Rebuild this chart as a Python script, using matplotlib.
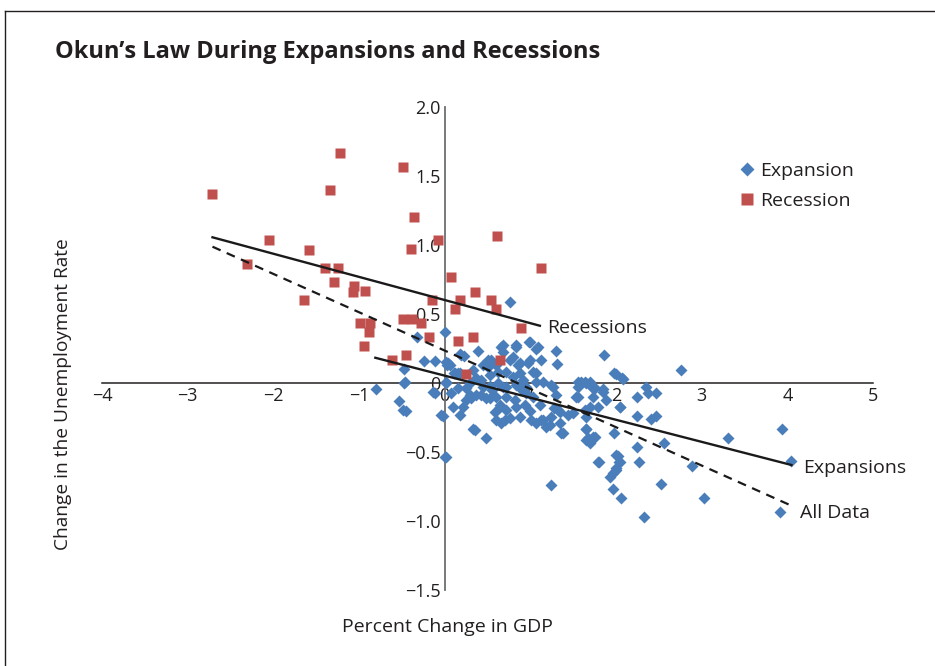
import matplotlib
matplotlib.use("Agg")
import matplotlib.pyplot as plt
from matplotlib.lines import Line2D

plt.rcParams['font.family'] = ['Open Sans', 'DejaVu Sans']

# recession quarters (red squares)
rec_x = [-2.71, -1.217, -1.342, -0.482, -0.362, -2.054, -1.583, -2.302, -1.392, -1.249,
         -1.287, -0.397, -0.078, -1.058, -1.07, -0.93, -1.645, 0.078, 0.183, 0.125,
         -0.152, -0.984, -0.875, -0.879, -0.482, -0.377, -0.28, -0.187, 0.16, -0.942,
         -0.447, -0.61, 0.253, 0.35, 0.545, 0.603, 0.33, 0.887, 0.65, 0.61, 1.12]
rec_y = [1.367, 1.669, 1.399, 1.567, 1.20, 1.034, 0.966, 0.865, 0.836, 0.836,
         0.732, 0.969, 1.036, 0.703, 0.662, 0.664, 0.599, 0.77, 0.60, 0.534,
         0.60, 0.435, 0.433, 0.372, 0.466, 0.466, 0.437, 0.333, 0.302, 0.268,
         0.20, 0.167, 0.065, 0.662, 0.60, 0.534, 0.331, 0.396, 0.167, 1.065, 0.831]

# expansion quarters (blue diamonds)
exp_x = [-0.80, -0.475, -0.475, -0.537, -0.455, -0.323, -0.24, -0.117, -0.117, 0.01,
         -0.02, 0.01, 0.0, 0.03, 0.183, 0.22, 0.105, 0.155, 0.758, 0.68,
         0.837, 0.984, 0.389, 0.195, 0.04, 0.545, 0.447, 0.505, 0.758, 0.855,
         0.972, 0.02, 0.117, 0.175, 0.37, 0.428, 0.525, 0.622, 0.72, 0.797,
         0.875, 1.03, 1.07, 0.155, 0.253, 0.447, 0.525, 0.72, 0.837, 0.953,
         0.992, 1.07, 1.30, 1.128, 0.66, 0.68, 0.837, 0.505, 0.603, 0.797,
         0.875, 0.992, 0.058, -0.467, -0.137, -0.04, -0.49, 0.078, 0.097, 0.175,
         0.31, 0.428, 0.525, 0.35, 0.486, 0.642, 0.72, 0.837, 0.603, 0.70,
         0.875, 0.953, 1.03, 1.01, 1.07, 1.147, 1.187, 1.245, 1.362, 1.32,
         1.30, 1.537, 1.595, 1.692, 1.75, 1.497, 1.653, 1.73, 1.692, 0.0,
         0.214, 0.33, 0.02, 0.583, 0.875, 0.933, 0.817, 0.72, 0.603, 0.486,
         0.37, 0.292, 0.642, 0.758, 0.66, 1.09, 1.315, 1.86, 1.98, 2.07,
         1.07, 1.147, 1.245, 1.555, 1.634, 1.73, 1.847, 1.264, 1.555, 1.73,
         1.847, 1.555, 1.73, 1.887, 2.04, 1.108, 1.28, 1.342, 1.44, 1.634,
         1.692, 1.79, 1.128, 1.225, 1.342, 1.38, 1.653, 1.672, 1.75, 1.98,
         1.79, 2.0, 2.04, 2.0, 2.76, 2.0, 2.08, 1.575, 1.645, 1.72,
         2.345, 2.37, 2.46, 2.244, 2.05, 2.244, 2.41, 2.46, 1.645, 1.73,
         1.653, 2.244, 2.555, 2.267, 2.02, 2.03, 2.0, 1.96, 1.925, 1.80,
         1.96, 2.06, 2.52, 2.88, 3.03, 2.325, 3.30, 3.93, 4.04, 3.91,
         1.24, 0.292, 0.62, 0.914, 0.33, 0.55, 0.9, 0.25, 0.68, 1.0]
exp_y = [-0.04, 0.10, 0.0, -0.13, -0.20, 0.331, 0.162, 0.162, -0.07, 0.0,
         -0.24, 0.155, 0.367, 0.13, 0.208, 0.196, 0.07, 0.07, 0.589, 0.275,
         0.275, 0.30, 0.234, 0.203, 0.143, 0.167, 0.13, 0.118, 0.167, 0.13,
         0.143, 0.01, 0.07, 0.07, 0.034, 0.022, 0.058, 0.082, 0.082, 0.046,
         0.07, 0.082, 0.01, -0.038, -0.038, -0.027, -0.022, -0.027, -0.015, -0.027,
         0.30, 0.25, 0.234, 0.167, 0.263, 0.227, 0.263, 0.167, 0.13, 0.19,
         0.143, 0.167, 0.13, 0.01, -0.063, -0.232, -0.196, -0.075, -0.172, -0.232,
         -0.111, -0.087, -0.111, -0.34, -0.40, -0.172, -0.196, -0.172, -0.268, -0.268,
         -0.027, -0.075, -0.099, -0.268, -0.292, -0.268, -0.317, -0.244, -0.365, -0.196,
         -0.087, -0.099, 0.01, 0.01, -0.038, -0.22, -0.244, -0.39, -0.437, -0.534,
         -0.172, -0.33, -0.534, -0.208, -0.244, -0.159, -0.123, -0.099, -0.099, -0.111,
         -0.087, -0.087, -0.159, -0.256, -0.292, 0.263, 0.135, 0.20, 0.075, 0.034,
         0.07, 0.01, -0.015, 0.01, 0.01, -0.027, -0.046, -0.027, -0.027, -0.038,
         -0.063, -0.099, -0.099, -0.123, -0.172, -0.159, -0.183, -0.208, -0.232, -0.196,
         -0.172, -0.172, -0.268, -0.304, -0.292, -0.365, -0.33, -0.40, -0.39, -0.365,
         -0.57, -0.52, -0.57, -0.63, 0.094, 0.065, 0.029, 0.0, 0.0, -0.03,
         -0.03, -0.075, -0.07, -0.099, -0.172, -0.237, -0.263, -0.24, -0.336, -0.40,
         -0.413, -0.466, -0.437, -0.57, -0.53, -0.57, -0.618, -0.654, -0.68, -0.57,
         -0.77, -0.836, -0.734, -0.60, -0.836, -0.97, -0.40, -0.336, -0.565, -0.933,
         -0.74, 0.0, 0.0, 0.022, 0.094, -0.05, -0.05, -0.12, -0.03, -0.2]

# fitted lines (end points)
rec_fit_x = [-2.71, 1.11]
rec_fit_y = [1.056, 0.415]
exp_fit_x = [-0.81, 4.045]
exp_fit_y = [0.183, -0.594]
all_fit_x = [-2.71, 4.045]
all_fit_y = [0.988, -0.889]

xticks = [-4, -3, -2, -1, 0, 1, 2, 3, 4, 5]
yticks = [-1.5, -1.0, -0.5, 0, 0.5, 1.0, 1.5, 2.0]

blue = '#4a7ebb'
red = '#c0504d'
txt = '#231f20'

fig = plt.figure(figsize=(9.35, 6.66), dpi=100)
ax = fig.add_axes([0.109, 0.1141, 0.825, 0.7252])

ax.plot(rec_fit_x, rec_fit_y, color='#1a1a1a', lw=1.7, zorder=4)
ax.plot(exp_fit_x, exp_fit_y, color='#1a1a1a', lw=1.7, zorder=4)
ax.plot(all_fit_x, all_fit_y, color='#1a1a1a', lw=1.6, ls=(0, (4, 3)), zorder=4)

ax.plot(exp_x, exp_y, 'D', color=blue, ms=5.8, mec='none', label='Expansion', zorder=3)
ax.plot(rec_x, rec_y, 's', color=red, ms=7.3, mec='none', label='Recession', zorder=3)

ax.set_xlim(-4, 5)
ax.set_ylim(-1.5, 2.0)
ax.spines['left'].set_position('zero')
ax.spines['bottom'].set_position('zero')
ax.spines['top'].set_visible(False)
ax.spines['right'].set_visible(False)
ax.spines['left'].set_color('#6d6e71')
ax.spines['bottom'].set_color('#231f20')
ax.spines['left'].set_linewidth(1.3)
ax.spines['bottom'].set_linewidth(1.1)
ax.set_xticks(xticks)
ax.set_xticklabels([str(v).replace('-', '\u2212') for v in xticks])
ax.set_yticks(yticks)
ax.set_yticklabels([('0' if v == 0 else f'{v:.1f}').replace('-', '\u2212') for v in yticks])
ax.tick_params(length=0, labelsize=13, colors=txt, pad=3)
ax.patch.set_visible(False)

ax.text(1.20, 0.40, 'Recessions', fontsize=14, color=txt, va='center')
ax.text(4.18, -0.616, 'Expansions', fontsize=14, color=txt, va='center')
ax.text(4.14, -0.942, 'All Data', fontsize=14, color=txt, va='center')

leg = ax.legend(loc='upper left', bbox_to_anchor=(0.779, 0.771), bbox_transform=fig.transFigure,
                frameon=False, fontsize=14, handletextpad=0.25, labelspacing=0.6,
                handlelength=0.9, borderpad=0, labelcolor=txt, markerscale=1.25)

fig.text(55 / 935, 1 - 52 / 666, 'Okun\u2019s Law During Expansions and Recessions',
         fontsize=17, fontweight='bold', color=txt, va='center', ha='left')
fig.text(63 / 935, 1 - 394 / 666, 'Change in the Unemployment Rate', rotation=90,
         fontsize=13.8, color=txt, va='center', ha='center')
fig.text(447 / 935, 1 - 627 / 666, 'Percent Change in GDP',
         fontsize=14, color=txt, va='center', ha='center')

# frame around the figure panel
fig.add_artist(Line2D([5 / 935, 5 / 935], [0, 1 - 11 / 666], transform=fig.transFigure,
                      color='#231f20', lw=1.0))
fig.add_artist(Line2D([5 / 935, 1], [1 - 11 / 666, 1 - 11 / 666], transform=fig.transFigure,
                      color='#231f20', lw=1.0))

fig.savefig('out.png', dpi=100)
